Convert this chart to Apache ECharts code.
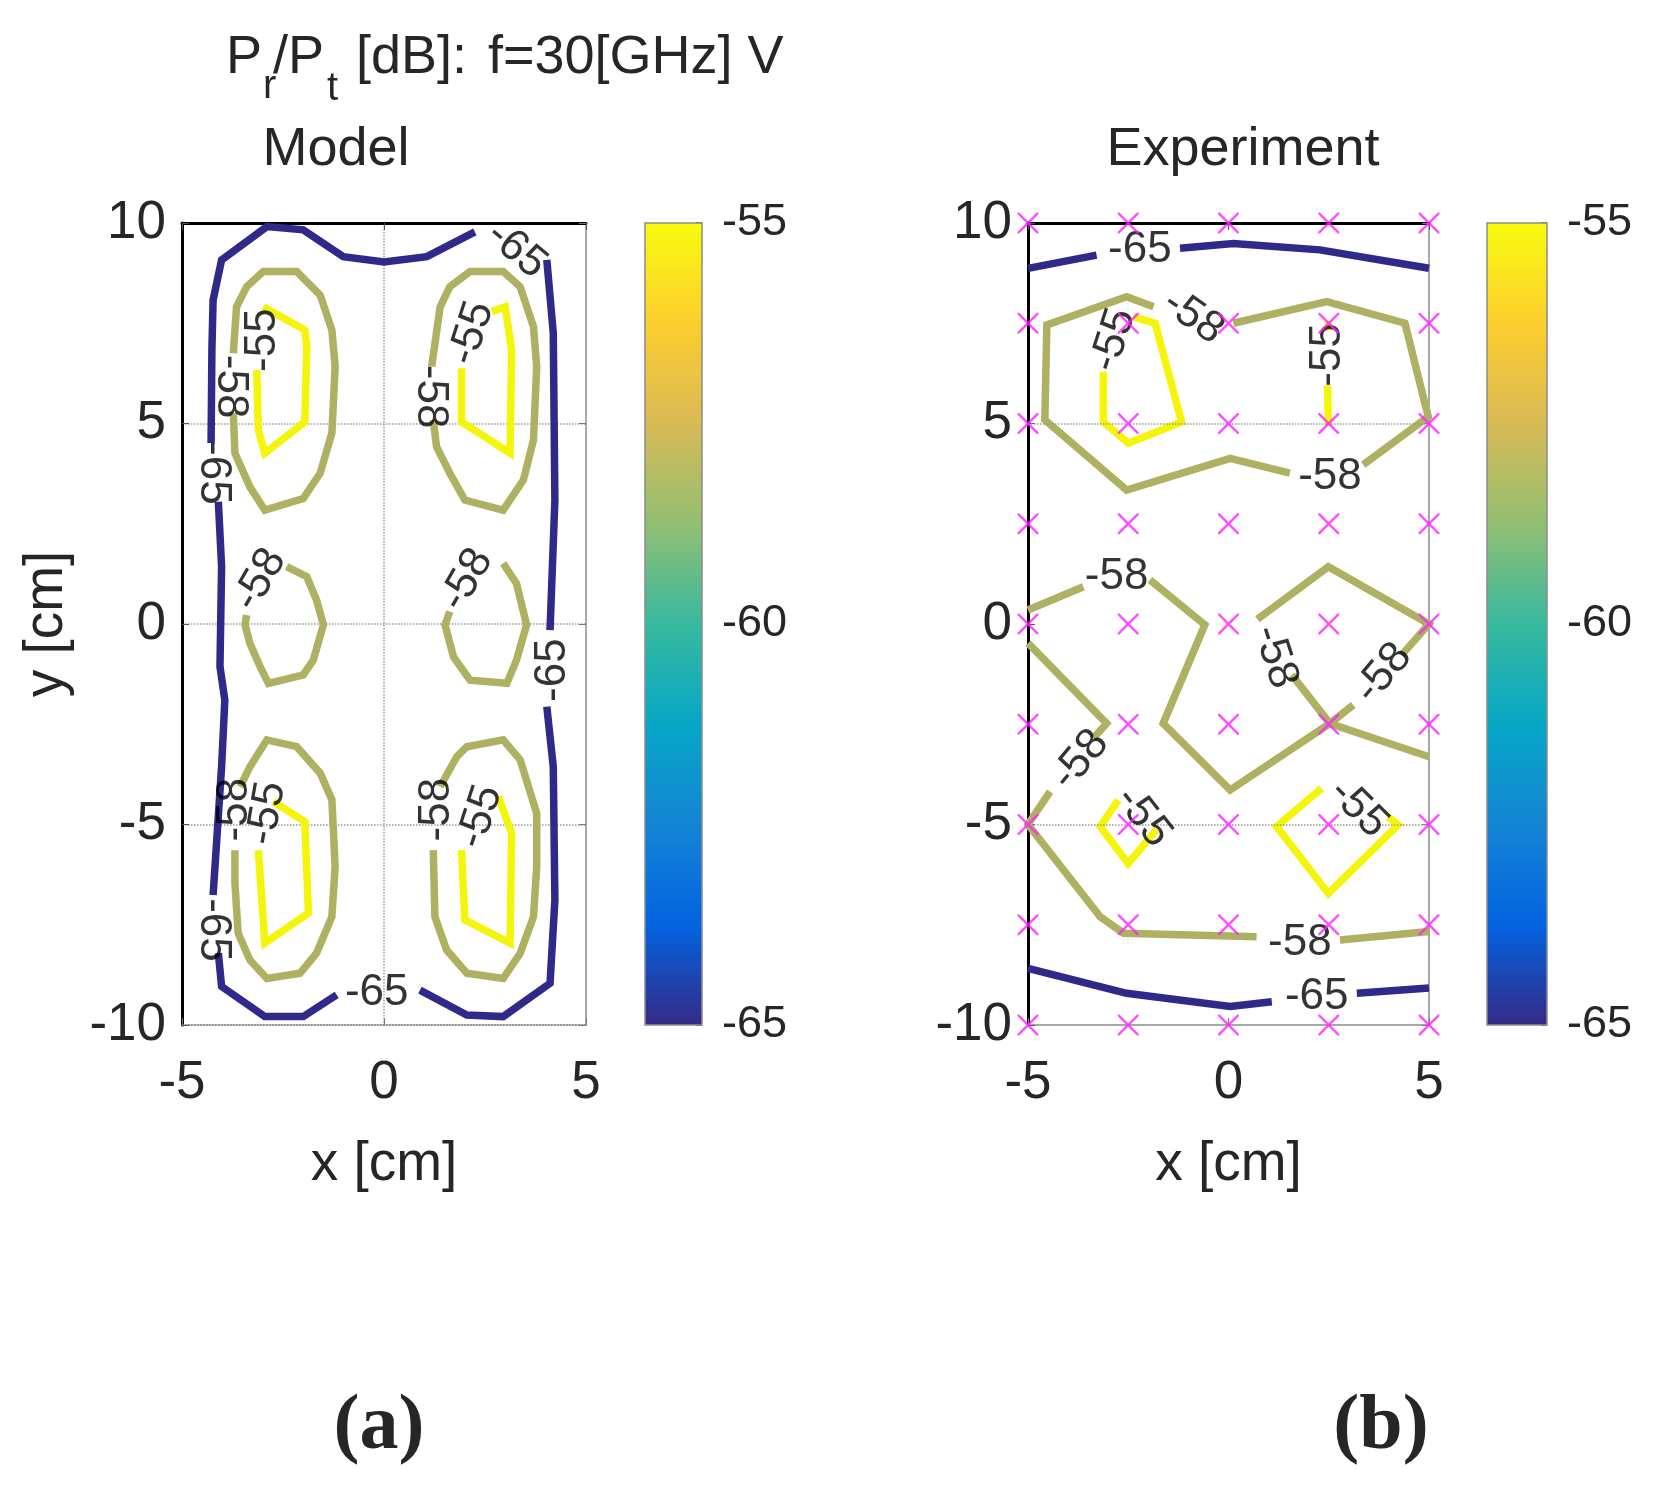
<!DOCTYPE html>
<html>
<head>
<meta charset="utf-8">
<script src="https://cdn.jsdelivr.net/npm/echarts@6/dist/echarts.min.js"></script>
<style>
html,body{margin:0;padding:0;background:#fff;}
#chart{width:1663px;height:1502px;}
</style>
</head>
<body>
<div id="chart"></div>
<script>
// ---------------- data ----------------
const xTicks = [-5, 0, 5];
const yTicks = [-10, -5, 0, 5, 10];
const cbarTicks = [-65, -60, -55];
const levels = [-65, -58, -55];

// Model contour pieces (x [cm], y [cm]); gaps are where MATLAB placed labels
const modelLevel65 = [
  [[2.25,9.78],[1.06,9.16],[0,9.03],[-1.01,9.16],[-2.0,9.83],[-2.9,9.91],[-4.02,9.08],[-4.23,8.08],[-4.26,6.83],[-4.28,4.51]],
  [[-4.10,3.05],[-4.02,1.43],[-4.06,-1.06],[-3.94,-1.90],[-4.02,-3.56],[-4.23,-6.76]],
  [[-4.10,-8.21],[-4.02,-9.04],[-2.95,-9.79],[-2.0,-9.79],[-1.17,-9.25]],
  [[0.89,-9.13],[2.05,-9.75],[2.95,-9.79],[4.11,-8.96],[4.23,-6.88],[4.19,-3.56],[4.03,-2.06]],
  [[4.11,-0.15],[4.23,3.09],[4.19,7.26],[4.03,9.08]]
];
const modelLevel58 = [
  [[-3.73,5.25],[-3.69,4.26],[-3.32,3.42],[-2.95,2.84],[-2.0,3.13],[-1.58,3.76],[-1.29,4.76],[-1.21,6.42],[-1.29,7.33],[-1.58,8.20],[-2.16,8.79],[-2.99,8.79],[-3.40,8.41],[-3.65,7.91],[-3.73,6.75]],
  [[1.22,5.09],[1.30,4.42],[1.63,3.76],[2.0,3.09],[2.95,2.84],[3.45,3.59],[3.70,4.59],[3.78,6.42],[3.70,7.41],[3.37,8.41],[2.95,8.79],[2.13,8.79],[1.63,8.41],[1.39,7.91],[1.18,6.42]],
  [[-3.40,0.22],[-3.44,-0.02],[-3.32,-0.48],[-3.07,-1.06],[-2.86,-1.48],[-2.0,-1.27],[-1.75,-0.90],[-1.50,-0.02],[-1.67,0.60],[-1.91,1.18],[-2.41,1.43]],
  [[1.63,0.31],[1.51,-0.02],[1.72,-0.82],[2.13,-1.40],[3.04,-1.48],[3.28,-0.90],[3.53,-0.02],[3.28,1.01],[2.95,1.51]],
  [[-3.69,-5.64],[-3.69,-6.47],[-3.61,-7.71],[-3.32,-8.38],[-2.90,-8.84],[-2.08,-8.71],[-1.67,-8.21],[-1.29,-7.30],[-1.21,-6.05],[-1.29,-4.38],[-1.58,-3.72],[-2.16,-3.06],[-2.90,-2.89],[-3.32,-3.56],[-3.56,-4.06]],
  [[1.22,-5.64],[1.26,-7.30],[1.55,-8.13],[2.05,-8.71],[2.95,-8.84],[3.37,-8.21],[3.70,-7.30],[3.78,-6.05],[3.78,-4.72],[3.37,-3.39],[2.95,-2.89],[2.05,-3.06],[1.80,-3.31],[1.39,-4.06]]
];
const modelLevel55 = [
  [[-2.99,7.91],[-1.96,7.33],[-1.91,6.92],[-1.96,5.04],[-2.95,4.26],[-3.11,4.84],[-3.15,6.33]],
  [[2.67,7.79],[3.0,7.91],[3.16,6.83],[3.12,4.26],[1.92,5.04],[1.92,6.38]],
  [[-2.74,-4.43],[-1.96,-4.93],[-1.87,-7.21],[-2.95,-7.96],[-3.11,-5.64]],
  [[2.83,-4.31],[3.16,-5.22],[3.12,-7.96],[2.0,-7.38],[1.92,-5.64]]
];
const modelLabelPts = [
  [3.28,9.33,-65],[-4.23,3.77,-65],[-4.23,-7.63,-65],[-0.18,-9.20,-65],[4.18,-1.15,-65],
  [-3.81,5.92,-58],[1.14,5.67,-58],[-3.07,1.10,-58],[2.05,1.10,-58],[-3.69,-4.63,-58],[1.30,-4.63,-58],
  [-2.99,7.08,-55],[2.17,7.25,-55],[-2.90,-4.72,-55],[2.38,-4.81,-55]
];
const modelLabelAngles = [-40,-90,-90,0,90, -90,-90,60,60,90,90, 90,72,80,72];

// Experiment contour pieces
const expLevel65 = [
  [[-5,8.87],[-3.29,9.20]],
  [[-1.21,9.37],[0.12,9.49],[2.28,9.33],[5,8.87]],
  [[-5,-8.59],[-2.54,-9.21],[0.04,-9.54],[1.08,-9.42]],
  [[3.20,-9.21],[5,-9.08]]
];
const expLevel58 = [
  [[0.12,7.50],[2.45,8.04],[4.40,7.50],[4.98,5.17],[3.36,3.97]],
  [[1.53,3.76],[0.04,4.13],[-2.54,3.34],[-4.58,5.09],[-4.53,7.46],[-2.54,8.16],[-1.87,7.91]],
  [[-5,0.35],[-3.62,0.93]],
  [[-1.96,1.10],[-0.59,-0.02],[-1.63,-2.48],[0.04,-4.14],[2.53,-2.48],[3.11,-2.02]],
  [[4.32,-0.77],[5,0],[2.49,1.43],[0.72,0.12]],
  [[1.58,-1.27],[2.53,-2.48],[5,-3.31]],
  [[-5,-0.48],[-3.04,-2.48],[-3.37,-2.85]],
  [[-4.45,-4.18],[-5,-5],[-3.20,-7.30],[-2.62,-7.71],[0.70,-7.80]],
  [[2.78,-7.88],[5,-7.67]]
];
const expLevel55 = [
  [[-3.12,6.29],[-3.12,5.04],[-2.50,4.51],[-1.17,5.04],[-1.83,7.50],[-2.37,7.66]],
  [[2.49,7.55],[2.49,7.32]],
  [[2.47,5.95],[2.49,4.95]],
  [[-2.75,-4.39],[-3.20,-5.05],[-2.50,-5.97],[-1.79,-5.12]],
  [[2.32,-4.10],[1.20,-5.05],[2.49,-6.72],[4.23,-5.01],[3.98,-4.81]]
];
const expLabelPts = [
  [-2.21,9.33,-65],[2.20,-9.29,-65],
  [-0.88,7.66,-58],[2.53,3.67,-58],[-2.79,1.18,-58],[1.16,-0.82,-58],[3.86,-1.23,-58],[-3.70,-3.39,-58],[1.78,-7.96,-58],
  [-2.87,7.08,-55],[2.49,6.71,-55],[-2.13,-4.81,-55],[3.24,-4.60,-55]
];
const expLabelAngles = [0,0, -35,0,0,-72,50,50,0, 72,90,-52,-45];

// measurement grid of the experiment
const expGridX = [-5, -2.5, 0, 2.5, 5];
const expGridY = [-10, -7.5, -5, -2.5, 0, 2.5, 5, 7.5, 10];
const expGridLinesY = [5, -5];

// ---------------- style ----------------
const FONT = "'Liberation Sans', Arial, Helvetica, sans-serif";
const TXT = '#262626';
const levelColor = {'-65': '#2f2a8a', '-58': '#aeb062', '-55': '#f5f50c'};
const parula = ['#352a87','#0363e1','#1485d4','#06a7c6','#38b99e','#92bf73','#d9ba56','#fcce2e','#f9fb0e'];

const G = {
  model: {left: 182, top: 223, width: 404, height: 802},
  exp:   {left: 1028, top: 223, width: 401, height: 802},
  cbM:   {left: 645, top: 223, width: 57, height: 802},
  cbE:   {left: 1487, top: 223, width: 60, height: 802}
};

function mainXAxes(gridIndex, withName, dottedBottom, splitShow) {
  return [
    {
      type: 'value', gridIndex, position: 'bottom', min: xTicks[0], max: xTicks[xTicks.length-1], interval: 5,
      axisLine: {show: true, onZero: false, lineStyle: {color: dottedBottom ? '#8a8a8a' : '#a8a8a8', width: dottedBottom ? 1.5 : 2, type: dottedBottom ? 'dotted' : 'solid'}},
      axisTick: {show: true, inside: true, length: 7, lineStyle: {color: '#777'}},
      axisLabel: {show: true, fontSize: 53, color: TXT, fontFamily: FONT, margin: 32},
      splitLine: {show: splitShow, lineStyle: {type: 'dotted', color: '#9a9a9a', width: 1.5}},
      name: withName ? 'x [cm]' : '', nameLocation: 'middle', nameGap: 112,
      nameTextStyle: {fontSize: 55, color: TXT, fontFamily: FONT}
    },
    {
      type: 'value', gridIndex, position: 'top', min: xTicks[0], max: xTicks[xTicks.length-1], interval: 5,
      axisLine: {show: true, onZero: false, lineStyle: {color: '#000', width: 3}},
      axisTick: {show: true, inside: true, length: 7, lineStyle: {color: '#555'}},
      axisLabel: {show: false}, splitLine: {show: false}
    }
  ];
}
function mainYAxes(gridIndex, withName, splitShow) {
  return [
    {
      type: 'value', gridIndex, position: 'left', min: yTicks[0], max: yTicks[yTicks.length-1], interval: 5,
      axisLine: {show: true, onZero: false, lineStyle: {color: '#000', width: 3}},
      axisTick: {show: true, inside: true, length: 7, lineStyle: {color: '#555'}},
      axisLabel: {show: true, fontSize: 53, color: TXT, fontFamily: FONT, margin: 16},
      splitLine: {show: splitShow, lineStyle: {type: 'dotted', color: '#9a9a9a', width: 1.5}},
      name: withName ? 'y [cm]' : '', nameLocation: 'middle', nameGap: 108, nameRotate: 90,
      nameTextStyle: {fontSize: 55, color: TXT, fontFamily: FONT}
    },
    {
      type: 'value', gridIndex, position: 'right', min: yTicks[0], max: yTicks[yTicks.length-1], interval: 5,
      axisLine: {show: true, onZero: false, lineStyle: {color: '#a8a8a8', width: 2}},
      axisTick: {show: true, inside: true, length: 7, lineStyle: {color: '#777'}},
      axisLabel: {show: false}, splitLine: {show: false}
    }
  ];
}
function cbarAxes(gridIndex) {
  return {
    x: {type: 'value', gridIndex, show: false, min: 0, max: 1},
    y: {
      type: 'value', gridIndex, position: 'right', min: cbarTicks[0], max: cbarTicks[cbarTicks.length-1], interval: 5,
      axisLine: {show: false, onZero: false},
      axisTick: {show: true, inside: true, length: 6, lineStyle: {color: '#333', width: 1.5}},
      axisLabel: {show: true, fontSize: 45, color: TXT, fontFamily: FONT, margin: 20},
      splitLine: {show: false}
    }
  };
}

const xAxis = [...mainXAxes(0, true, true, true), ...mainXAxes(1, true, false, false)];
const yAxis = [...mainYAxes(0, true, true), ...mainYAxes(1, false, false)];
const cbM = cbarAxes(2), cbE = cbarAxes(3);
xAxis.push(cbM.x, cbE.x);
yAxis.push(cbM.y, cbE.y);
// xAxis indices: 0 model bottom, 1 model top, 2 exp bottom, 3 exp top, 4 cbM, 5 cbE
// yAxis indices: 0 model left, 1 model right, 2 exp left, 3 exp right, 4 cbM, 5 cbE

const series = [];
// dummy series for colorbars (visualMap targets)
series.push({type: 'scatter', xAxisIndex: 4, yAxisIndex: 4, data: [], silent: true});
series.push({type: 'scatter', xAxisIndex: 5, yAxisIndex: 5, data: [], silent: true});

function addContours(pieces, level, xi, yi) {
  pieces.forEach(p => {
    series.push({
      type: 'line', xAxisIndex: xi, yAxisIndex: yi, data: p, symbol: 'none', showSymbol: false,
      silent: true, animation: false, z: 3,
      lineStyle: {color: levelColor[String(level)], width: 7.5, cap: 'butt', join: 'miter'}
    });
  });
}
addContours(modelLevel65, levels[0], 0, 0);
addContours(modelLevel58, levels[1], 0, 0);
addContours(modelLevel55, levels[2], 0, 0);
addContours(expLevel65, levels[0], 2, 2);
addContours(expLevel58, levels[1], 2, 2);
addContours(expLevel55, levels[2], 2, 2);

function addLabels(pts, angles, xi, yi) {
  series.push({
    type: 'scatter', xAxisIndex: xi, yAxisIndex: yi, symbolSize: 1, silent: true, animation: false, z: 5,
    itemStyle: {color: 'rgba(0,0,0,0)'},
    label: {show: true, position: 'inside', fontSize: 44, color: '#000', fontFamily: FONT,
      formatter: p => String(p.value[2])},
    data: pts.map((p, i) => ({value: p, label: {rotate: angles[i]}}))
  });
}
addLabels(modelLabelPts, modelLabelAngles, 0, 0);
addLabels(expLabelPts, expLabelAngles, 2, 2);

// measurement points
const gridPts = [];
expGridY.forEach(y => expGridX.forEach(x => gridPts.push([x, y])));
series.push({
  type: 'scatter', xAxisIndex: 2, yAxisIndex: 2, data: gridPts, clip: false, silent: true, animation: false, z: 6,
  symbol: 'path://M0,0 L1.6,0 L10,8.4 L18.4,0 L20,0 L20,1.6 L11.6,10 L20,18.4 L20,20 L18.4,20 L10,11.6 L1.6,20 L0,20 L0,18.4 L8.4,10 L0,1.6 Z',
  symbolSize: 21, itemStyle: {color: '#ff22ff'}
});
// experiment grid lines
series.push({
  type: 'line', xAxisIndex: 2, yAxisIndex: 2, data: [], silent: true, animation: false, z: 1,
  markLine: {silent: true, symbol: 'none', label: {show: false},
    lineStyle: {type: 'dotted', color: '#9a9a9a', width: 1.5},
    data: expGridLinesY.map(v => ({yAxis: v}))}
});

function txt(text, x, y, size, opts) {
  opts = opts || {};
  return {
    type: 'text', x: x, y: y, silent: true, z: 10,
    style: {
      text: text, fill: TXT, fontSize: size, fontFamily: opts.family || FONT, fontWeight: opts.weight || 'normal',
      align: opts.align || 'left', textAlign: opts.align || 'left',
      verticalAlign: 'middle', textVerticalAlign: 'middle'
    }
  };
}

const option = {
  backgroundColor: '#ffffff',
  animation: false,
  grid: [
    Object.assign({show: false}, G.model),
    Object.assign({show: false}, G.exp),
    Object.assign({show: true, z: 10, borderColor: '#8c8c8c', borderWidth: 1.5, backgroundColor: 'transparent'}, G.cbM),
    Object.assign({show: true, z: 10, borderColor: '#8c8c8c', borderWidth: 1.5, backgroundColor: 'transparent'}, G.cbE)
  ],
  xAxis, yAxis,
  visualMap: [
    {type: 'continuous', seriesIndex: 0, min: cbarTicks[0], max: cbarTicks[2], calculable: false, hoverLink: false,
     left: G.cbM.left, top: G.cbM.top, itemWidth: G.cbM.width, itemHeight: G.cbM.height, padding: 0,
     inRange: {color: parula}, text: null, showLabel: false},
    {type: 'continuous', seriesIndex: 1, min: cbarTicks[0], max: cbarTicks[2], calculable: false, hoverLink: false,
     left: G.cbE.left, top: G.cbE.top, itemWidth: G.cbE.width, itemHeight: G.cbE.height, padding: 0,
     inRange: {color: parula}, text: null, showLabel: false}
  ],
  graphic: [
    txt('P', 226, 58, 54),
    txt('r', 263, 87, 40),
    txt('/P', 273, 58, 54),
    txt('t', 327, 89, 40),
    txt('[dB]:', 356, 58, 54),
    txt('f=30[GHz] V', 488, 58, 54),
    txt('Model', 336, 150, 54, {align: 'center'}),
    txt('Experiment', 1243, 150, 54, {align: 'center'}),
    txt('(a)', 379, 1428, 78, {align: 'center', family: "'Liberation Serif', 'Times New Roman', serif", weight: 'bold'}),
    txt('(b)', 1381, 1428, 78, {align: 'center', family: "'Liberation Serif', 'Times New Roman', serif", weight: 'bold'})
  ],
  series
};

const chart = echarts.init(document.getElementById('chart'), null, {renderer: 'canvas'});
chart.setOption(option);
</script>
</body>
</html>
